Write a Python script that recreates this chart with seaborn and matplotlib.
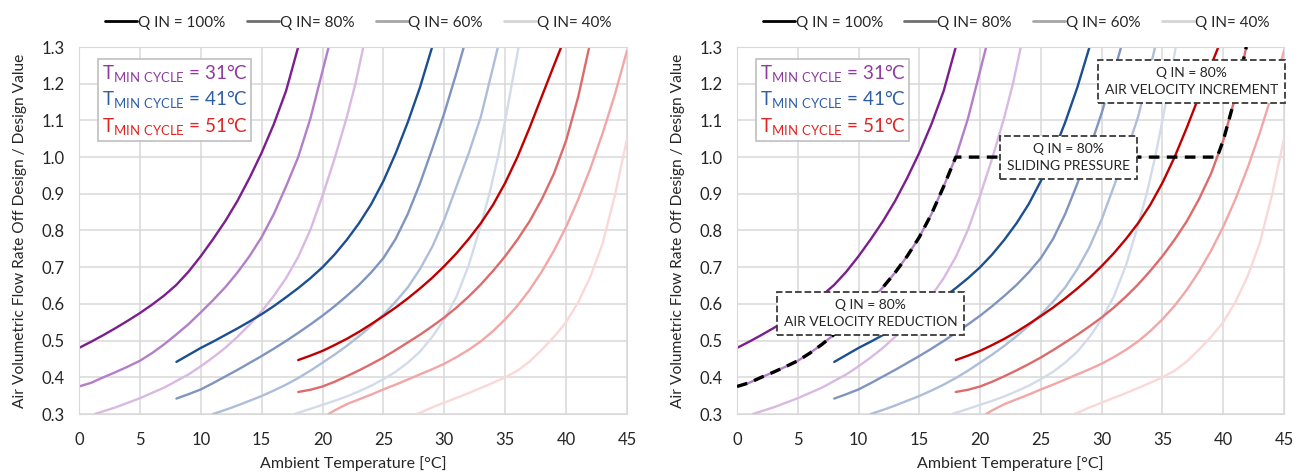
import numpy as np
import pandas as pd
import matplotlib
matplotlib.use('Agg')
import matplotlib.pyplot as plt
from matplotlib.lines import Line2D
from matplotlib.offsetbox import AnchoredOffsetbox, TextArea, VPacker
import seaborn as sns

# ambient temperature [C] vs air flow off design / design
# T min cycle = 31 C
p100_x = [0, 1, 2, 3, 4, 5, 6, 7, 8, 9, 10, 11, 12, 13, 14, 15, 16, 17, 18]
p100_y = [0.48, 0.497, 0.515, 0.534, 0.554, 0.575, 0.598, 0.623, 0.652, 0.688, 0.73,
          0.776, 0.825, 0.88, 0.943, 1.012, 1.09, 1.18, 1.3]
p80_x = [0, 1, 2, 3, 4, 5, 6, 7, 8, 9, 10, 11, 12, 13, 14, 15, 16, 17, 18, 19, 20, 20.5]
p80_y = [0.375, 0.385, 0.40, 0.414, 0.429, 0.445, 0.466, 0.49, 0.517, 0.545, 0.577, 0.61,
         0.645, 0.685, 0.73, 0.782, 0.845, 0.92, 1.0, 1.105, 1.235, 1.3]
p60_x = [1.3, 3, 5, 7, 9, 10, 11, 12, 13, 14, 15, 16, 17, 18, 19, 20, 21, 22, 22.7, 23.35]
p60_y = [0.30, 0.318, 0.343, 0.372, 0.408, 0.43, 0.454, 0.48, 0.51, 0.543, 0.58, 0.622,
         0.67, 0.728, 0.802, 0.895, 0.997, 1.11, 1.2, 1.3]

# T min cycle = 41 C
b100_x = [8, 9, 10, 11, 12, 13, 14, 15, 16, 17, 18, 19, 20, 21, 22, 23, 24, 25, 26, 27, 28, 29]
b100_y = [0.442, 0.461, 0.48, 0.497, 0.515, 0.533, 0.552, 0.572, 0.594, 0.618, 0.643, 0.67,
          0.70, 0.735, 0.775, 0.82, 0.872, 0.935, 1.01, 1.095, 1.19, 1.3]
b80_x = [8, 9, 10, 11, 12, 13, 14, 15, 16, 17, 18, 19, 20, 21, 22, 23, 24, 25, 26, 27,
         28, 29, 30, 31, 31.6]
b80_y = [0.342, 0.354, 0.367, 0.384, 0.402, 0.42, 0.439, 0.458, 0.478, 0.499, 0.521, 0.544,
         0.568, 0.594, 0.622, 0.652, 0.686, 0.725, 0.777, 0.845, 0.928, 1.022, 1.12, 1.23, 1.3]
b60_x = [11, 12, 13, 14, 15, 16, 17, 18, 19, 20, 21, 22, 23, 24, 25, 26, 27, 28, 29, 30,
         31, 32, 33, 34, 34.4]
b60_y = [0.30, 0.311, 0.323, 0.336, 0.349, 0.364, 0.38, 0.398, 0.418, 0.44, 0.462, 0.486,
         0.512, 0.54, 0.571, 0.606, 0.645, 0.695, 0.755, 0.83, 0.92, 1.01, 1.11, 1.245, 1.3]
b40_x = [17.7, 19, 20, 21, 22, 23, 24, 25, 26, 27, 28, 29, 30, 31, 32, 33, 33.7, 34.4,
         35.0, 35.55, 36.1]
b40_y = [0.30, 0.314, 0.325, 0.336, 0.348, 0.362, 0.377, 0.395, 0.415, 0.44, 0.47, 0.51,
         0.558, 0.62, 0.705, 0.815, 0.90, 1.0, 1.1, 1.2, 1.3]

# T min cycle = 51 C
r100_x = [18, 19, 20, 21, 22, 23, 24, 25, 26, 27, 28, 29, 30, 31, 32, 33, 34, 35, 36, 37,
          38, 39, 39.6]
r100_y = [0.447, 0.459, 0.472, 0.488, 0.505, 0.524, 0.545, 0.567, 0.59, 0.615, 0.642, 0.671,
          0.703, 0.738, 0.777, 0.82, 0.87, 0.93, 1.0, 1.08, 1.165, 1.25, 1.3]
r80_x = [18, 19, 20, 21, 22, 23, 24, 25, 26, 27, 28, 29, 30, 31, 32, 33, 34, 35, 36, 37,
         38, 39, 40, 41, 41.9]
r80_y = [0.36, 0.366, 0.375, 0.388, 0.403, 0.419, 0.436, 0.454, 0.474, 0.495, 0.516, 0.539,
         0.563, 0.59, 0.62, 0.653, 0.69, 0.73, 0.775, 0.825, 0.885, 0.955, 1.045, 1.165, 1.3]
r60_x = [20.5, 21, 22, 23, 24, 25, 26, 27, 28, 29, 30, 31, 32, 33, 34, 35, 36, 37, 38, 39,
         40, 41, 42, 43, 44, 45]
r60_y = [0.30, 0.31, 0.327, 0.34, 0.353, 0.367, 0.38, 0.394, 0.408, 0.422, 0.437, 0.455,
         0.475, 0.498, 0.526, 0.558, 0.595, 0.638, 0.688, 0.745, 0.81, 0.885, 0.97, 1.065,
         1.17, 1.29]
r40_x = [27.7, 28, 29, 30, 31, 32, 33, 34, 35, 36, 37, 38, 39, 40, 41, 42, 43, 44, 45]
r40_y = [0.30, 0.303, 0.318, 0.331, 0.344, 0.357, 0.371, 0.385, 0.40, 0.418, 0.443, 0.475,
         0.51, 0.55, 0.605, 0.675, 0.765, 0.895, 1.05]

curves = {
    'p100': (p100_x, p100_y, '#7B1E8E'),
    'p80': (p80_x, p80_y, '#B27FC8'),
    'p60': (p60_x, p60_y, '#D9B9E2'),
    'b100': (b100_x, b100_y, '#1C4F92'),
    'b80': (b80_x, b80_y, '#7F95C0'),
    'b60': (b60_x, b60_y, '#AEBDD9'),
    'b40': (b40_x, b40_y, '#D3DBEA'),
    'r100': (r100_x, r100_y, '#C00000'),
    'r80': (r80_x, r80_y, '#DE6B6B'),
    'r60': (r60_x, r60_y, '#F2A6A6'),
    'r40': (r40_x, r40_y, '#FBD8D8'),
}

legend_labels = ['Q IN = 100%', 'Q IN= 80%', 'Q IN= 60%', 'Q IN= 40%']
legend_colors = ['#000000', '#707070', '#A6A6A6', '#D4D4D4']

tmin_labels = [r'T$_{\mathrm{MIN\ CYCLE}}$ = 31°C',
               r'T$_{\mathrm{MIN\ CYCLE}}$ = 41°C',
               r'T$_{\mathrm{MIN\ CYCLE}}$ = 51°C']
tmin_colors = ['#8E3A9E', '#2E5EA3', '#E02424']

rows = []
for name, (xs, ys, _) in curves.items():
    for xv, yv in zip(xs, ys):
        rows.append((name, xv, yv))
df = pd.DataFrame(rows, columns=['curve', 'temp', 'flow'])
palette = {k: v[2] for k, v in curves.items()}

# operating path at Q IN = 80%: follows p80, slides at 1.0, then follows r80
path = pd.concat([
    pd.DataFrame({'temp': p80_x, 'flow': p80_y}).query('flow <= 1.0'),
    pd.DataFrame({'temp': [39.5], 'flow': [1.0]}),
    pd.DataFrame({'temp': r80_x, 'flow': r80_y}).query('flow > 1.0'),
], ignore_index=True)

sns.set_style('white')
plt.rcParams['font.family'] = ['Lato', 'DejaVu Sans']
plt.rcParams['mathtext.fontset'] = 'custom'
plt.rcParams['mathtext.rm'] = 'Lato'

fig = plt.figure(figsize=(13.09, 4.73), dpi=100)
ax1 = fig.add_axes([79 / 1309, 59 / 473, 548 / 1309, 367 / 473])
ax2 = fig.add_axes([737 / 1309, 59 / 473, 547 / 1309, 367 / 473])

for ax in (ax1, ax2):
    sns.lineplot(data=df, x='temp', y='flow', hue='curve', palette=palette,
                 sort=False, estimator=None, legend=False, lw=1.7, ax=ax)
    ax.set_xlim(0, 45)
    ax.set_ylim(0.3, 1.3)
    ax.set_xticks(np.arange(0, 46, 5))
    ax.set_yticks(np.round(np.arange(0.3, 1.31, 0.1), 1))
    ax.yaxis.set_major_formatter(matplotlib.ticker.FormatStrFormatter('%.1f'))
    ax.grid(True, color='#D9D9D9', lw=1.1)
    ax.set_axisbelow(True)
    for sp in ax.spines.values():
        sp.set_color('#D9D9D9')
    ax.tick_params(length=0, labelsize=12, colors='#262626')
    ax.tick_params(axis='x', pad=13)
    ax.tick_params(axis='y', pad=10)
    ax.set_xlabel('Ambient Temperature [°C]', fontsize=11.5, color='#262626', labelpad=6)
    ax.set_ylabel('Air Volumetric Flow Rate Off Design / Design Value',
                  fontsize=11.2, color='#262626', labelpad=11)

    handles = [Line2D([], [], color=c, lw=2) for c in legend_colors]
    ax.legend(handles, legend_labels, loc='lower center', bbox_to_anchor=(0.51, 1.01),
              ncol=4, frameon=False, fontsize=11, handlelength=2.1,
              handletextpad=0.05, columnspacing=1.4)

    texts = [TextArea(t, textprops=dict(color=c, fontsize=13.5))
             for t, c in zip(tmin_labels, tmin_colors)]
    box = AnchoredOffsetbox(loc='upper left', child=VPacker(children=texts, pad=0, sep=3),
                            pad=0.25, borderpad=0, frameon=True,
                            bbox_to_anchor=(0.035, 0.967), bbox_transform=ax.transAxes)
    box.patch.set_edgecolor('#BFBFBF')
    box.patch.set_linewidth(1.2)
    ax.add_artist(box)

sns.lineplot(data=path, x='temp', y='flow', color='black', lw=2.4, sort=False,
             estimator=None, ax=ax2, zorder=5)
ax2.lines[-1].set_dashes([3.2, 2.2])

box_style = dict(boxstyle='square,pad=0.5', fc='white', ec='#3A3A3A', ls='--', lw=1.3)
notes = [(11.0, 0.573, 'Q IN = 80%\nAIR VELOCITY REDUCTION'),
         (27.3, 1.0, 'Q IN = 80%\nSLIDING PRESSURE'),
         (37.4, 1.205, 'Q IN = 80%\nAIR VELOCITY INCREMENT')]
for xv, yv, txt in notes:
    ax2.text(xv, yv, txt, ha='center', va='center', fontsize=10,
             color='#262626', linespacing=1.5, bbox=box_style, zorder=6)

fig.savefig('out.png', dpi=100)
